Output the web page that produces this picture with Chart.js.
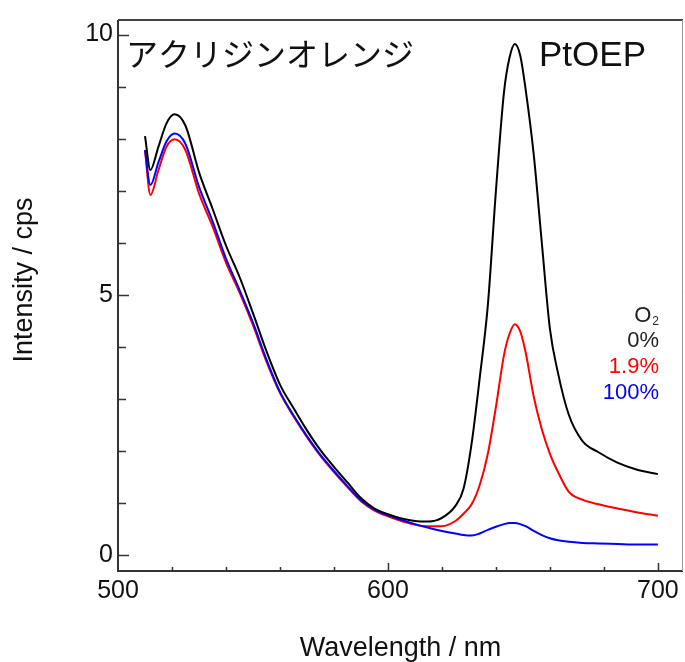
<!DOCTYPE html>
<html>
<head>
<meta charset="utf-8">
<script src="https://cdn.jsdelivr.net/npm/chart.js@4.4.1/dist/chart.umd.min.js"></script>
<style>
  html, body { margin: 0; padding: 0; background: #fff; }
  #spectra { display: block; }
</style>
</head>
<body>
<canvas id="spectra" width="685" height="662"></canvas>
<script>
// wavelength (nm) shared by the three emission spectra
var wavelength = [510, 512, 515, 518, 521, 525, 530, 535, 540, 545, 550, 555, 560, 565, 570, 575, 580, 585, 590, 595,
                  600, 605, 610, 615, 620, 625, 628, 631, 634, 637, 640, 643, 645, 647, 649, 651, 654, 657, 660, 663,
                  667, 672, 678, 685, 692, 700];
// intensity (cps) at O2 = 0 %
var o2Zero = [8.05, 7.40, 7.85, 8.30, 8.47, 8.25, 7.36, 6.66, 5.95, 5.35, 4.65, 3.92, 3.28, 2.83, 2.40, 2.02, 1.70, 1.40, 1.10, 0.90,
              0.79, 0.71, 0.66, 0.65, 0.72, 0.95, 1.28, 2.15, 3.41, 4.80, 7.00, 8.90, 9.55, 9.82, 9.60, 8.95, 7.70, 6.00, 4.35, 3.50,
              2.70, 2.20, 1.98, 1.78, 1.65, 1.56];
// intensity at O2 = 1.9 %
var o2Low = [7.78, 6.92, 7.40, 7.85, 7.99, 7.78, 6.95, 6.32, 5.62, 5.05, 4.42, 3.72, 3.12, 2.67, 2.27, 1.91, 1.60, 1.31, 1.04, 0.86,
             0.75, 0.66, 0.59, 0.56, 0.56, 0.66, 0.80, 0.98, 1.35, 1.95, 2.85, 3.85, 4.25, 4.44, 4.30, 3.90, 3.05, 2.42, 1.95, 1.60,
             1.22, 1.07, 0.98, 0.90, 0.83, 0.76];
// intensity at O2 = 100 %
var o2Full = [7.78, 7.11, 7.55, 7.95, 8.10, 7.90, 7.08, 6.42, 5.70, 5.10, 4.47, 3.76, 3.14, 2.69, 2.29, 1.93, 1.62, 1.33, 1.06, 0.88,
              0.77, 0.68, 0.60, 0.53, 0.47, 0.42, 0.39, 0.38, 0.42, 0.49, 0.55, 0.60, 0.62, 0.62, 0.60, 0.56, 0.47, 0.39, 0.33, 0.29,
              0.26, 0.24, 0.23, 0.22, 0.21, 0.21];

var seriesLabels = ['0%', '1.9%', '100%'];
var seriesColors = ['#000000', '#ff0000', '#0000ff'];
var xTickValues = [500, 600, 700];
var yTickValues = [0, 5, 10];

var FONT = '"Liberation Sans", Arial, sans-serif';

function points(values) {
    return wavelength.map(function(w, i) { return {x: w, y: values[i]}; });
}

function line(label, values, color) {
    return {
        label: label,
        data: points(values),
        borderColor: color,
        borderWidth: 2,
        pointRadius: 0,
        fill: false,
        cubicInterpolationMode: 'monotone'
    };
}

// frame, inward ticks, y title and the text notes
var decor = {
    id: 'decor',
    afterDraw: function(chart) {
        var ctx = chart.ctx, a = chart.chartArea;
        var x = chart.scales.x, y = chart.scales.y;
        ctx.save();

        ctx.strokeStyle = '#333';
        ctx.lineWidth = 1.5;
        ctx.beginPath();
        for (var v = 0; v <= 10; v++) {
            var py = Math.round(y.getPixelForValue(v)) + 0.5;
            var len = yTickValues.indexOf(v) >= 0 ? 11 : 8;
            ctx.moveTo(a.left, py);
            ctx.lineTo(a.left + len, py);
        }
        for (var w = 520; w <= 700; w += 20) {
            var px = Math.round(x.getPixelForValue(w)) + 0.5;
            var l2 = xTickValues.indexOf(w) >= 0 ? 8 : 4;
            ctx.moveTo(px, a.bottom);
            ctx.lineTo(px, a.bottom - l2);
        }
        ctx.stroke();

        // frame
        ctx.lineWidth = 2;
        ctx.strokeStyle = '#333';
        ctx.beginPath();
        ctx.moveTo(a.left, a.top);
        ctx.lineTo(a.left, a.bottom);
        ctx.lineTo(a.right, a.bottom);
        ctx.stroke();
        ctx.strokeStyle = '#444';
        ctx.beginPath();
        ctx.moveTo(a.left, a.top);
        ctx.lineTo(a.right, a.top);
        ctx.stroke();
        ctx.lineWidth = 1;
        ctx.strokeStyle = '#999';
        ctx.beginPath();
        ctx.moveTo(a.right - 0.5, a.top);
        ctx.lineTo(a.right - 0.5, a.bottom);
        ctx.stroke();

        // y axis title
        ctx.fillStyle = '#111';
        ctx.font = '27px ' + FONT;
        ctx.textAlign = 'center';
        ctx.textBaseline = 'alphabetic';
        ctx.save();
        ctx.translate(32, 280);
        ctx.rotate(-Math.PI / 2);
        ctx.fillText('Intensity / cps', 0, 0);
        ctx.restore();

        // labels inside the plot
        ctx.textAlign = 'left';
        ctx.fillStyle = '#111';
        ctx.font = '32px "Noto Sans CJK JP", sans-serif';
        ctx.fillText('アクリジンオレンジ', 126, 66);
        ctx.font = '35px ' + FONT;
        ctx.fillText('PtOEP', 539, 66);

        // O2 legend
        ctx.textAlign = 'right';
        ctx.font = '12px ' + FONT;
        ctx.fillStyle = '#222';
        ctx.fillText('2', 659, 325);
        var ow = ctx.measureText('2').width;
        ctx.font = '22px ' + FONT;
        ctx.fillText('O', 659 - ow - 1, 322);
        var baselines = [347, 373, 399];
        for (var i = 0; i < seriesLabels.length; i++) {
            ctx.fillStyle = i === 0 ? '#222' : seriesColors[i];
            ctx.fillText(seriesLabels[i], 659, baselines[i]);
        }
        ctx.restore();
    }
};

var ctx = document.getElementById('spectra');
new Chart(ctx, {
    type: 'line',
    data: {
        datasets: [
            line(seriesLabels[0], o2Zero, seriesColors[0]),
            line(seriesLabels[2], o2Full, seriesColors[2]),
            line(seriesLabels[1], o2Low, seriesColors[1])
        ]
    },
    options: {
        responsive: false,
        animation: false,
        devicePixelRatio: 1,
        layout: { padding: { top: 17, right: 2, left: 0, bottom: 0 } },
        plugins: {
            legend: { display: false },
            tooltip: { enabled: false }
        },
        scales: {
            x: {
                type: 'linear',
                min: 500,
                max: 709.3,
                grid: { display: false, drawTicks: false },
                border: { display: false },
                afterBuildTicks: function(scale) {
                    scale.ticks = xTickValues.map(function(v) { return {value: v}; });
                },
                afterFit: function(scale) { scale.height = 91; },
                ticks: {
                    padding: 5,
                    maxRotation: 0,
                    color: '#111',
                    font: { family: FONT, size: 25 }
                },
                title: {
                    display: true,
                    text: 'Wavelength / nm',
                    color: '#111',
                    padding: { top: 0, bottom: 0 },
                    font: { family: FONT, size: 27, lineHeight: 1 }
                }
            },
            y: {
                min: -0.3,
                max: 10.28,
                grid: { display: false, drawTicks: false },
                border: { display: false },
                afterBuildTicks: function(scale) {
                    scale.ticks = yTickValues.map(function(v) { return {value: v}; });
                },
                afterFit: function(scale) { scale.width = 118; },
                ticks: {
                    padding: 5,
                    color: '#111',
                    font: { family: FONT, size: 25 }
                }
            }
        }
    },
    plugins: [decor]
});
</script>
</body>
</html>
